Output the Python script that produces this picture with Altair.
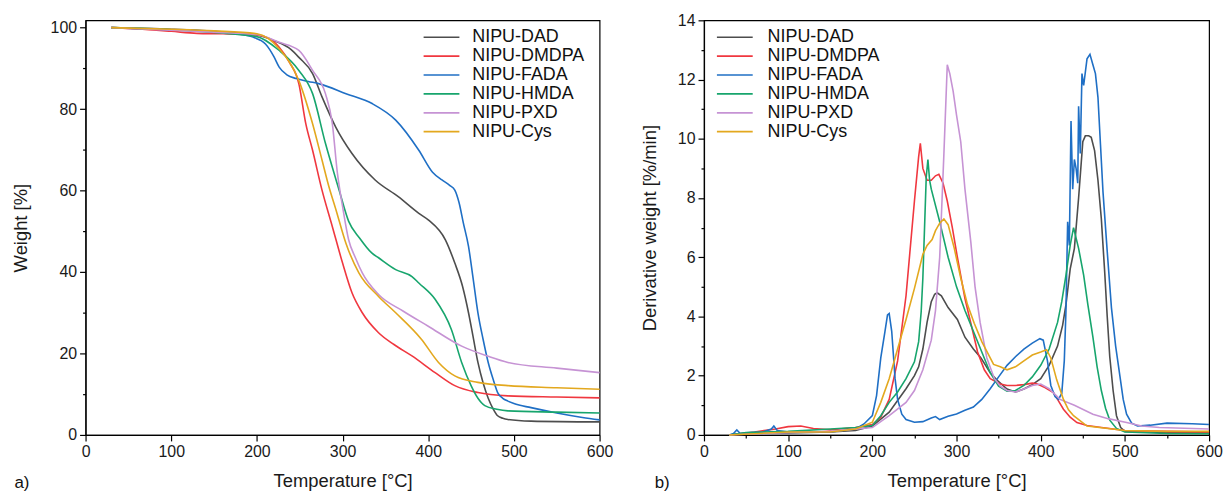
import altair as alt
import pandas as pd

SERIES = ["NIPU-DAD", "NIPU-DMDPA", "NIPU-FADA", "NIPU-HMDA", "NIPU-PXD", "NIPU-Cys"]
COLORS = ["#4d4d4d", "#f0373f", "#1f6fc5", "#17a56d", "#c693d4", "#e3a81e"]

# ---------------- a) TGA: weight [%] vs temperature ----------------
tga_dad_t = [30, 100, 150, 200, 220, 240, 249, 265, 276, 292, 311, 338, 365, 389, 400, 420, 431, 440, 447, 452, 458, 464, 470, 476, 481, 487, 493, 520, 600]
tga_dad_w = [100, 99.6, 99.1, 98.2, 96.8, 94.6, 92.7, 88.7, 83.0, 75.6, 69.1, 62.6, 58.5, 54.4, 52.8, 47.9, 42.2, 36.5, 30.0, 24.5, 17.8, 12.8, 9.0, 6.3, 4.7, 4.1, 3.8, 3.4, 3.2]

tga_dmdpa_t = [30, 60, 100, 130, 160, 200, 215, 226, 238, 249, 257, 265, 276, 288, 300, 311, 323, 342, 360, 381, 408, 431, 458, 493, 550, 600]
tga_dmdpa_w = [100, 99.7, 99.1, 98.6, 98.5, 98.2, 97.3, 95.2, 91.5, 86.2, 76.5, 69.9, 60.1, 51.2, 42.2, 34.9, 30.0, 25.1, 22.2, 19.4, 15.3, 12.1, 10.4, 9.6, 9.3, 9.1]

tga_fada_t = [30, 100, 150, 190, 200, 205, 210, 215, 220, 226, 235, 246, 260, 273, 304, 335, 362, 389, 405, 416, 425, 431, 436, 441, 447, 452, 458, 464, 470, 476, 481, 487, 493, 500, 520, 550, 580, 600]
tga_fada_w = [100, 99.5, 99.0, 98.0, 97.3, 96.8, 96.0, 94.6, 92.8, 90.3, 88.4, 87.5, 86.8, 86.2, 83.8, 81.3, 77.3, 69.9, 64.5, 62.6, 61.3, 60.1, 57.0, 52.0, 46.3, 39.0, 30.0, 23.5, 17.8, 13.5, 10.4, 9.0, 8.3, 7.7, 6.7, 5.4, 4.3, 3.7]

tga_hmda_t = [30, 100, 150, 200, 226, 249, 265, 280, 296, 307, 320, 334, 342, 362, 381, 389, 408, 427, 439, 450, 458, 466, 480, 493, 550, 600]
tga_hmda_w = [100, 99.5, 98.8, 97.8, 94.4, 89.5, 83.8, 71.6, 60.1, 52.5, 48.3, 44.7, 43.5, 40.6, 38.9, 37.3, 33.3, 25.9, 17.8, 12.1, 9.0, 7.2, 6.3, 5.9, 5.6, 5.4]

tga_pxd_t = [30, 100, 150, 200, 226, 249, 265, 280, 288, 294, 300, 307, 315, 323, 342, 370, 400, 439, 470, 493, 550, 600]
tga_pxd_w = [100, 99.4, 98.9, 98.3, 96.4, 94.4, 89.5, 83.8, 76.5, 64.2, 56.1, 48.0, 43.5, 39.8, 34.5, 30.5, 26.7, 21.8, 19.3, 17.8, 16.4, 15.3]

tga_cys_t = [30, 100, 150, 200, 226, 249, 265, 276, 284, 292, 304, 319, 342, 362, 392, 412, 431, 458, 493, 550, 600]
tga_cys_w = [100, 99.6, 99.2, 98.5, 94.8, 87.0, 76.4, 67.5, 61.0, 55.5, 47.0, 39.8, 34.0, 30.0, 23.5, 17.8, 14.5, 12.9, 12.1, 11.6, 11.2]

# ---------------- b) DTG: derivative weight [%/min] ----------------
dtg_dad_t = [30, 50, 100, 150, 180, 200, 220, 240, 250, 255, 260, 265, 270, 274, 277, 282, 290, 301, 310, 320, 329, 340, 348, 360, 370, 380, 390, 400, 410, 420, 426, 430, 435, 440, 445, 450, 453, 457, 460, 464, 468, 472, 476, 479, 482, 486, 490, 495, 500, 550, 600]
dtg_dad_v = [0, 0.05, 0.07, 0.1, 0.15, 0.3, 0.77, 1.56, 2.0, 2.3, 2.9, 3.8, 4.5, 4.75, 4.8, 4.7, 4.3, 3.9, 3.3, 2.9, 2.6, 2.1, 1.85, 1.55, 1.45, 1.55, 1.7, 1.9, 2.35, 3.0, 3.7, 4.4, 5.6, 6.3, 8.0, 9.9, 10.1, 10.1, 10.05, 9.6, 8.6, 7.3, 5.5, 4.0, 2.65, 1.5, 0.65, 0.25, 0.12, 0.08, 0.08]

dtg_dmdpa_t = [30, 60, 85, 100, 115, 130, 150, 180, 200, 210, 220, 230, 240, 250, 255, 257, 260, 265, 270, 275, 279, 284, 289, 295, 301, 310, 317, 325, 333, 340, 352, 360, 370, 380, 390, 396, 405, 415, 420, 427, 435, 443, 455, 470, 500, 550, 600]
dtg_dmdpa_v = [0, 0.1, 0.2, 0.28, 0.3, 0.22, 0.17, 0.25, 0.35, 0.6, 1.2, 2.5, 4.7, 7.9, 9.4, 9.85, 9.0, 8.6, 8.6, 8.75, 8.8, 8.5, 7.9, 7.0, 6.0, 4.6, 3.77, 2.8, 2.2, 1.9, 1.72, 1.67, 1.67, 1.7, 1.75, 1.72, 1.6, 1.43, 1.2, 0.87, 0.6, 0.42, 0.32, 0.26, 0.15, 0.12, 0.1]

dtg_fada_t = [30, 35, 39, 43, 50, 70, 80, 83, 87, 100, 150, 180, 190, 200, 205, 210, 215, 218, 220, 223, 227, 230, 235, 240, 250, 260, 270, 275, 280, 290, 300, 310, 320, 330, 340, 350, 360, 370, 380, 390, 399, 403, 408, 412, 417, 421, 425, 428, 430, 432, 434, 436, 438, 440, 442, 444, 445, 447, 449, 451, 455, 458.5, 462, 465, 468, 471, 474, 479, 484, 489, 494, 498, 502, 508, 515, 530, 550, 580, 600]
dtg_fada_v = [0, 0.05, 0.17, 0.05, 0.07, 0.1, 0.2, 0.3, 0.15, 0.1, 0.1, 0.2, 0.37, 0.65, 1.33, 2.6, 3.5, 4.05, 4.1, 3.5, 1.9, 1.2, 0.7, 0.52, 0.43, 0.45, 0.57, 0.62, 0.52, 0.63, 0.71, 0.83, 0.94, 1.2, 1.56, 1.96, 2.35, 2.64, 2.9, 3.1, 3.25, 3.2, 2.5, 1.67, 1.3, 1.2, 1.4, 2.5, 4.2, 7.2, 6.4, 10.6, 8.3, 9.3, 9.0, 8.5, 11.1, 9.5, 12.2, 11.8, 12.7, 12.85, 12.5, 12.2, 11.4, 9.8, 8.2, 6.2, 4.3, 3.0, 2.0, 1.2, 0.7, 0.4, 0.3, 0.33, 0.4, 0.38, 0.35]

dtg_hmda_t = [30, 50, 100, 150, 180, 200, 210, 220, 230, 240, 250, 255, 258, 260, 262, 264, 266, 268, 270, 280, 290, 300, 310, 320, 330, 340, 350, 360, 370, 380, 390, 400, 410, 420, 425, 430, 435, 439, 445, 451, 456, 462, 467, 472, 477, 482, 490, 500, 550, 600]
dtg_hmda_v = [0, 0.08, 0.12, 0.2, 0.25, 0.32, 0.65, 1.1, 1.45, 1.9, 2.47, 3.15, 4.16, 5.3, 7.0, 8.7, 9.3, 8.6, 8.3, 7.2, 6.0, 5.0, 4.2, 3.5, 2.8, 2.1, 1.65, 1.48, 1.5, 1.67, 1.96, 2.35, 2.9, 3.8, 4.5, 5.4, 6.4, 7.0, 6.3, 5.4, 4.4, 3.3, 2.3, 1.5, 0.9, 0.5, 0.22, 0.1, 0.05, 0.04]

dtg_pxd_t = [30, 100, 150, 200, 220, 240, 250, 260, 270, 275, 280, 285, 289, 292, 296, 300, 305, 310, 317, 322, 328, 336, 345, 352, 360, 370, 380, 390, 400, 410, 423, 440, 462, 480, 502, 520, 541, 600]
dtg_pxd_v = [0, 0.08, 0.12, 0.25, 0.65, 1.1, 1.5, 2.2, 3.2, 4.2, 6.0, 9.5, 12.5, 12.2, 11.6, 10.8, 9.9, 8.3, 6.5, 5.0, 3.8, 2.6, 1.9, 1.65, 1.5, 1.45, 1.55, 1.67, 1.72, 1.56, 1.2, 1.0, 0.7, 0.55, 0.42, 0.3, 0.25, 0.2]

dtg_cys_t = [30, 100, 150, 180, 200, 210, 220, 230, 240, 250, 260, 265, 271, 275, 280, 285, 290, 297, 305, 313, 321, 330, 344, 352, 360, 370, 380, 390, 400, 407, 412, 419, 427, 433, 439, 455, 500, 550, 600]
dtg_cys_v = [0, 0.1, 0.1, 0.2, 0.43, 1.1, 1.9, 2.9, 3.9, 4.95, 6.1, 6.4, 6.6, 6.9, 7.15, 7.29, 7.1, 6.34, 5.3, 4.4, 3.77, 3.15, 2.38, 2.3, 2.2, 2.3, 2.5, 2.7, 2.8, 2.88, 2.6, 1.86, 1.2, 0.85, 0.65, 0.3, 0.15, 0.12, 0.12]

X_TICKS_A = [0, 100, 200, 300, 400, 500, 600]
X_TICKS_B = [0, 50, 100, 150, 200, 250, 300, 350, 400, 450, 500, 550, 600]
Y_TICKS_A = [0, 10, 20, 30, 40, 50, 60, 70, 80, 90, 100]
Y_TICKS_B = [0, 1, 2, 3, 4, 5, 6, 7, 8, 9, 10, 11, 12, 13, 14]

FONT = "Liberation Sans"


def long_df(pairs):
    rows = []
    for name, ts, vs in pairs:
        for t, v in zip(ts, vs):
            rows.append({"series": name, "T": t, "v": v})
    return pd.DataFrame(rows)


tga = long_df([
    ("NIPU-DAD", tga_dad_t, tga_dad_w),
    ("NIPU-DMDPA", tga_dmdpa_t, tga_dmdpa_w),
    ("NIPU-FADA", tga_fada_t, tga_fada_w),
    ("NIPU-HMDA", tga_hmda_t, tga_hmda_w),
    ("NIPU-PXD", tga_pxd_t, tga_pxd_w),
    ("NIPU-Cys", tga_cys_t, tga_cys_w),
])
dtg = long_df([
    ("NIPU-DAD", dtg_dad_t, dtg_dad_v),
    ("NIPU-DMDPA", dtg_dmdpa_t, dtg_dmdpa_v),
    ("NIPU-FADA", dtg_fada_t, dtg_fada_v),
    ("NIPU-HMDA", dtg_hmda_t, dtg_hmda_v),
    ("NIPU-PXD", dtg_pxd_t, dtg_pxd_v),
    ("NIPU-Cys", dtg_cys_t, dtg_cys_v),
])


def tick_size(step):
    return {"condition": {"test": f"datum.value % {step} != 0", "value": 3}, "value": 6}


def label_expr(step):
    return f"datum.value % {step} == 0 ? datum.label : ''"


def panel(df, ytitle, ydomain, yticks, ystep, xticks, xstep, tag, tag_x, leg_x, leg_off, ytpad, w, h, interp):
    lines = alt.Chart(df).mark_line(strokeWidth=1.6, interpolate=interp).encode(
        x=alt.X("T:Q", scale=alt.Scale(domain=[0, 600], nice=False),
                axis=alt.Axis(values=xticks, labelExpr=label_expr(xstep), tickSize=tick_size(xstep),
                              labelFlush=False, title="Temperature [°C]", titlePadding=12)),
        y=alt.Y("v:Q", scale=alt.Scale(domain=ydomain, nice=False),
                axis=alt.Axis(values=yticks, labelExpr=label_expr(ystep), tickSize=tick_size(ystep),
                              title=ytitle, titlePadding=ytpad)),
        color=alt.Color("series:N", scale=alt.Scale(domain=SERIES, range=COLORS),
                        legend=alt.Legend(orient="none", legendX=leg_x, legendY=7, title=None,
                                          symbolType="M-2,0H2", symbolSize=324, symbolStrokeWidth=1.7,
                                          labelFont=FONT, labelFontSize=18, labelColor="#111111",
                                          labelOffset=leg_off, rowPadding=0, padding=0, labelLimit=300)),
        detail="series:N",
    )
    lab = alt.Chart(pd.DataFrame({"lab": [tag]})).mark_text(
        font=FONT, fontSize=17, align="center", baseline="middle", color="#111111"
    ).encode(x=alt.value(tag_x), y=alt.value(h + 48), text="lab:N")
    return alt.layer(lines, lab).properties(width=w, height=h)


left = panel(tga, "Weight [%]", [0, 101.8], Y_TICKS_A, 20, X_TICKS_A, 100, "a)", -64, 348, 21, 20, 517, 417, "monotone")
right = panel(dtg, "Derivative weight [%/min]", [0, 14], Y_TICKS_B, 2, X_TICKS_B, 100, "b)", -42, 21, 23, 18, 508, 417, "linear")

chart = alt.hconcat(left, right, spacing=26).resolve_legend(color="independent").configure_view(
    stroke="black", strokeWidth=1.2
).configure_axis(
    labelFont=FONT, labelFontSize=16, labelColor="#1a1a1a", labelPadding=3,
    titleFont=FONT, titleFontSize=18.5, titleFontWeight="normal", titleColor="#1a1a1a",
    domainColor="black", domainWidth=1.2, tickColor="black", tickWidth=1.2, grid=False,
).properties(padding={"left": 2, "top": 2, "right": 0, "bottom": 0})

chart.save("out.html", embed_options={"renderer": "svg", "actions": False})
